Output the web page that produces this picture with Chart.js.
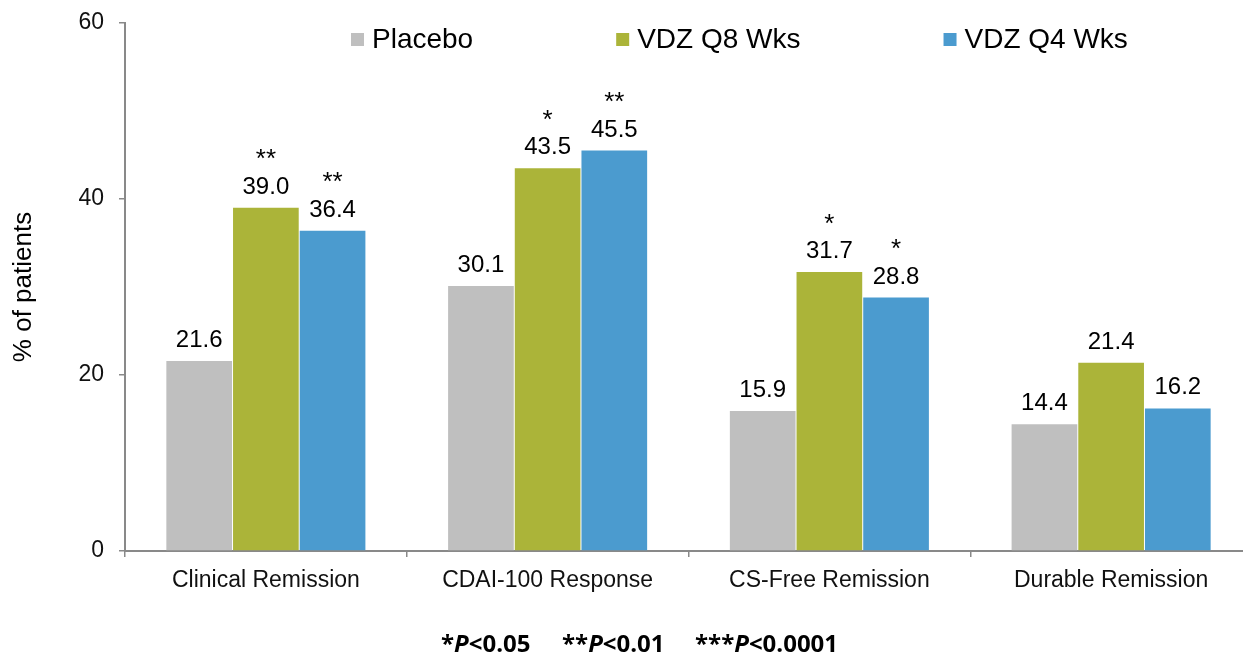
<!DOCTYPE html>
<html>
<head>
<meta charset="utf-8">
<script src="https://cdn.jsdelivr.net/npm/chart.js@4"></script>
<style>
  html, body { margin: 0; padding: 0; background: #fff; overflow: hidden; }
  #wrap { position: relative; width: 1260px; height: 655px; }
  #foot { position: absolute; top: 626px; left: 0; width: 1260px; height: 30px;
          font-family: "Open Sans", "Liberation Sans", sans-serif; font-weight: 700;
          font-size: 24px; color: #000; }
  #foot span { position: absolute; top: 0; white-space: nowrap; }
</style>
</head>
<body>
<div id="wrap">
  <canvas id="c"></canvas>
  <div id="foot">
    <span style="left:441px">*<i>P</i>&lt;0.05</span>
    <span style="left:562px">**<i>P</i>&lt;0.01</span>
    <span style="left:695px">***<i>P</i>&lt;0.0001</span>
  </div>
</div>
<script>
// Endpoints and rates (% of patients)
const categories = ["Clinical Remission", "CDAI-100 Response", "CS-Free Remission", "Durable Remission"];
const seriesNames = ["Placebo", "VDZ Q8 Wks", "VDZ Q4 Wks"];
const placebo = [21.6, 30.1, 15.9, 14.4];
const vdzQ8 = [39.0, 43.5, 31.7, 21.4];
const vdzQ4 = [36.4, 45.5, 28.8, 16.2];
// significance markers shown above each bar
const placeboStars = ["", "", "", ""];
const vdzQ8Stars = ["**", "*", "*", ""];
const vdzQ4Stars = ["**", "**", "*", ""];
const yTicks = [0, 20, 40, 60];

const colors = ["#BFBFBF", "#ABB439", "#4B9BCF"];
const FONT = "'Liberation Sans', Arial, sans-serif";

const valueLabels = {
  id: "valueLabels",
  afterDatasetsDraw(chart) {
    const ctx = chart.ctx;
    ctx.save();
    ctx.fillStyle = "#000";
    ctx.textAlign = "center";
    ctx.textBaseline = "alphabetic";
    chart.data.datasets.forEach((ds, di) => {
      const meta = chart.getDatasetMeta(di);
      meta.data.forEach((bar, i) => {
        const base = bar.y - 14;
        ctx.font = "24px " + FONT;
        ctx.fillText(ds.data[i].toFixed(1), bar.x, base);
        const s = ds.stars[i];
        if (s) {
          ctx.font = "26px " + FONT;
          ctx.fillText(s, bar.x, base - 26.5);
        }
      });
    });
    ctx.restore();
  }
};

const topLegend = {
  id: "topLegend",
  afterDraw(chart) {
    const ctx = chart.ctx;
    ctx.save();
    ctx.font = "28px " + FONT;
    ctx.textBaseline = "alphabetic";
    ctx.textAlign = "left";
    let x = 351;
    chart.data.datasets.forEach(ds => {
      ctx.fillStyle = ds.backgroundColor;
      ctx.fillRect(x, 33, 13, 13);
      ctx.fillStyle = "#000";
      const w = ctx.measureText(ds.label).width;
      ctx.fillText(ds.label, x + 21, 48);
      x += 21 + w + 143;
    });
    ctx.restore();
  }
};

new Chart(document.getElementById("c"), {
  type: "bar",
  data: {
    labels: categories,
    datasets: [
      { label: seriesNames[0], data: placebo, stars: placeboStars, backgroundColor: colors[0] },
      { label: seriesNames[1], data: vdzQ8, stars: vdzQ8Stars, backgroundColor: colors[1] },
      { label: seriesNames[2], data: vdzQ4, stars: vdzQ4Stars, backgroundColor: colors[2] }
    ]
  },
  options: {
    responsive: true,
    maintainAspectRatio: false,
    animation: false,
    layout: { padding: { left: 0, top: 23, right: 8, bottom: 0 } },
    datasets: { bar: { categoryPercentage: 0.71, barPercentage: 0.985 } },
    plugins: { legend: { display: false }, tooltip: { enabled: false } },
    scales: {
      x: {
        grid: { offset: true, drawOnChartArea: false, drawTicks: true, tickLength: 6, color: "#898989", lineWidth: 1.5 },
        border: { color: "#898989", width: 2 },
        ticks: { color: "#111", font: { family: FONT, size: 23 }, padding: 10, maxRotation: 0 },
        afterFit(s) { s.height = 104; s.paddingLeft = 0; s.paddingRight = 0; }
      },
      y: {
        min: 0, max: 60,
        afterBuildTicks(s) { s.ticks = yTicks.map(v => ({ value: v })); },
        grid: { drawOnChartArea: false, drawTicks: true, tickLength: 6, color: "#898989", lineWidth: 1.5 },
        border: { color: "#898989", width: 2 },
        ticks: { color: "#111", font: { family: FONT, size: 23 }, padding: 15 },
        title: { display: true, text: "% of patients", color: "#000",
                 font: { family: FONT, size: 26 }, padding: { top: 8, bottom: 0 } },
        afterFit(s) { s.width = 125; s.paddingTop = 0; s.paddingBottom = 0; }
      }
    }
  },
  plugins: [valueLabels, topLegend]
});
</script>
</body>
</html>
